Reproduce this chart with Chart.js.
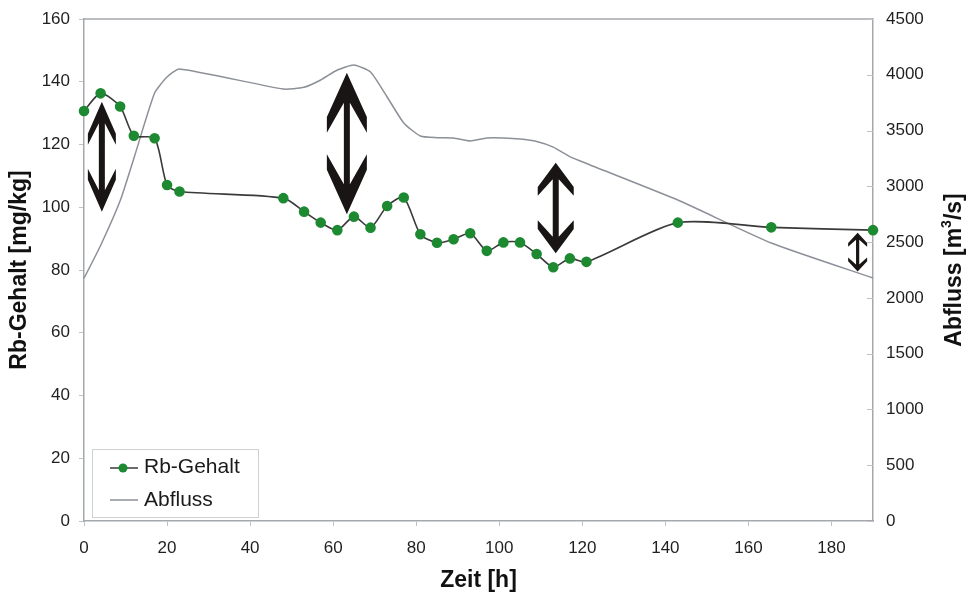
<!DOCTYPE html>
<html>
<head>
<meta charset="utf-8">
<script src="https://cdn.jsdelivr.net/npm/chart.js@4.4.1/dist/chart.umd.min.js"></script>
<style>
  html, body { margin: 0; padding: 0; background: #ffffff; }
  #wrap { width: 971px; height: 598px; }
</style>
</head>
<body>
<div id="wrap"><canvas id="grafRb" width="971" height="598"></canvas></div>
<script>
// Werte
var rbZeit = [0, 4, 8.7, 12, 17, 20, 23, 48, 53, 57, 61, 65, 69, 73, 77, 81, 85, 89, 93, 97, 101, 105, 109, 113, 117, 121, 143, 165.5, 190];
var rbWerte = [130.7, 136.3, 132.1, 122.8, 122, 107.1, 105, 102.9, 98.6, 95.1, 92.7, 97, 93.5, 100.4, 103.1, 91.4, 88.7, 89.8, 91.7, 86.1, 88.8, 88.8, 85.1, 80.9, 83.7, 82.6, 95.1, 93.6, 92.7];

var abflussZeit = [0, 4, 8.7, 12, 17, 20, 23, 48, 53, 57, 61, 65, 69, 73, 77, 81, 85, 89, 93, 97, 101, 105, 109, 113, 117, 121, 143, 165.5, 190];
var abflussWerte = [2176, 2470, 2870, 3250, 3836, 3980, 4052, 3872, 3888, 3953, 4043, 4088, 4025, 3801, 3568, 3451, 3436, 3433, 3406, 3433, 3433, 3424, 3402, 3352, 3267, 3205, 2877, 2492, 2178];

// Doppelpfeile (Zeit, oberes und unteres Ende in mg/kg)
var pfeilZeit = [4.3, 63.3, 113.6, 186.3];
var pfeilOben = [133.6, 142.9, 114.2, 91.9];
var pfeilUnten = [98.6, 97.8, 85.3, 79.5];

var schrift = "'Liberation Sans', Arial, sans-serif";
var gruen = "#1d8a32";
var achsFarbe = "#a4a7ab";

function punkte(xs, ys) {
    var res = [];
    xs.forEach(function(x, i) { res.push({x: x, y: ys[i]}); });
    return res;
}

//Pfeile, Rahmen, Legende und rechter Achsentitel
var zusatzPlugin = {
    id: "zusatz",
    afterDatasetsDraw: function(chart) {
        var ctx = chart.ctx;
        var sx = chart.scales.x, sy = chart.scales.y;
        var breite = [28, 40, 36, 19];
        var kopf = [43, 60, 33, 14];
        ctx.save();
        ctx.fillStyle = "#1a1515";
        pfeilZeit.forEach(function(t, i) {
            var cx = sx.getPixelForValue(t);
            var yT = sy.getPixelForValue(pfeilOben[i]);
            var yB = sy.getPixelForValue(pfeilUnten[i]);
            var w2 = breite[i] / 2, h2 = kopf[i], h1 = h2 * 0.74;
            var s = i === 3 ? 1.6 : 3;
            var h3 = h2 * 0.5;
            ctx.beginPath();
            ctx.moveTo(cx, yT);
            ctx.lineTo(cx + w2, yT + h1);
            ctx.lineTo(cx + w2, yT + h2);
            ctx.lineTo(cx + s, yT + h3);
            ctx.lineTo(cx + s, yB - h3);
            ctx.lineTo(cx + w2, yB - h2);
            ctx.lineTo(cx + w2, yB - h1);
            ctx.lineTo(cx, yB);
            ctx.lineTo(cx - w2, yB - h1);
            ctx.lineTo(cx - w2, yB - h2);
            ctx.lineTo(cx - s, yB - h3);
            ctx.lineTo(cx - s, yT + h3);
            ctx.lineTo(cx - w2, yT + h2);
            ctx.lineTo(cx - w2, yT + h1);
            ctx.closePath();
            ctx.fill();
        });
        ctx.restore();
    },
    afterDraw: function(chart) {
        var ctx = chart.ctx;
        var ca = chart.chartArea;
        var y2 = chart.scales.y2;
        ctx.save();

        // obere Rahmenlinie
        ctx.strokeStyle = achsFarbe;
        ctx.lineWidth = 1.5;
        ctx.beginPath();
        ctx.moveTo(ca.left, ca.top);
        ctx.lineTo(ca.right, ca.top);
        ctx.stroke();

        // Striche rechte Achse nach innen
        ctx.strokeStyle = "#c0c2c5";
        ctx.lineWidth = 1;
        y2.ticks.forEach(function(tk) {
            var py = Math.round(y2.getPixelForValue(tk.value)) + 0.5;
            ctx.beginPath();
            ctx.moveTo(ca.right - 6, py);
            ctx.lineTo(ca.right, py);
            ctx.stroke();
        });

        // Legende
        var lx = ca.left + 8, ly = ca.bottom - 72;
        ctx.fillStyle = "#ffffff";
        ctx.fillRect(lx, ly, 166, 68);
        ctx.strokeStyle = "#cfd0d2";
        ctx.lineWidth = 1;
        ctx.strokeRect(lx + 0.5, ly + 0.5, 166, 68);
        ctx.font = "21px " + schrift;
        ctx.textBaseline = "middle";
        ctx.textAlign = "left";
        ctx.strokeStyle = "#3a3a3a";
        ctx.lineWidth = 1.5;
        ctx.beginPath();
        ctx.moveTo(lx + 18, ly + 19);
        ctx.lineTo(lx + 46, ly + 19);
        ctx.stroke();
        ctx.fillStyle = gruen;
        ctx.beginPath();
        ctx.arc(lx + 31, ly + 19, 4.5, 0, Math.PI * 2);
        ctx.fill();
        ctx.fillStyle = "#1a1a1a";
        ctx.fillText("Rb-Gehalt", lx + 52, ly + 18);
        ctx.strokeStyle = "#8c9098";
        ctx.beginPath();
        ctx.moveTo(lx + 18, ly + 51);
        ctx.lineTo(lx + 46, ly + 51);
        ctx.stroke();
        ctx.fillText("Abfluss", lx + 52, ly + 51);

        // Titel rechte Achse (von unten nach oben)
        ctx.translate(955, (ca.top + ca.bottom) / 2);
        ctx.rotate(-Math.PI / 2);
        var fGross = "bold 23px " + schrift, fKlein = "bold 14px " + schrift;
        ctx.font = fGross;
        var t1 = "Abfluss [m", t3 = "/s]";
        var w1 = ctx.measureText(t1).width, w3 = ctx.measureText(t3).width;
        ctx.font = fKlein;
        var w2 = ctx.measureText("3").width;
        var start = -(w1 + w2 + w3) / 2;
        ctx.fillStyle = "#111111";
        ctx.textBaseline = "middle";
        ctx.font = fGross;
        ctx.fillText(t1, start, 0);
        ctx.font = fKlein;
        ctx.fillText("3", start + w1, -8);
        ctx.font = fGross;
        ctx.fillText(t3, start + w1 + w2, 0);
        ctx.restore();
    }
};

var getGrafRb = document.getElementById("grafRb");
var grafRb = new Chart(getGrafRb, {
    type: "line",
    plugins: [zusatzPlugin],
    data: {
        datasets: [
            {
                label: "Rb-Gehalt",
                data: punkte(rbZeit, rbWerte),
                yAxisID: "y",
                borderColor: "#3a3a3a",
                borderWidth: 1.6,
                pointBackgroundColor: gruen,
                pointBorderColor: gruen,
                pointRadius: 4.5,
                tension: 0.25,
                clip: false,
                fill: false
            },
            {
                label: "Abfluss",
                data: punkte(abflussZeit, abflussWerte),
                yAxisID: "y2",
                borderColor: "#8c9098",
                borderWidth: 1.5,
                pointRadius: 0,
                tension: 0.18,
                clip: false,
                fill: false
            }
        ]
    },
    options: {
        responsive: false,
        animation: false,
        layout: { padding: { top: 19, left: 0, right: 0, bottom: 0 } },
        scales: {
            x: {
                type: "linear",
                min: 0,
                max: 190,
                afterFit: function(s) { s.height = 77; s.paddingLeft = 0; s.paddingRight = 0; },
                ticks: {
                    stepSize: 20,
                    includeBounds: false,
                    maxRotation: 0,
                    padding: 12,
                    color: "#1f1f1f",
                    font: { family: schrift, size: 17 }
                },
                grid: { drawOnChartArea: false, tickLength: 5, color: "#c0c2c5" },
                border: { color: achsFarbe, width: 1.5 },
                title: {
                    display: true,
                    text: "Zeit [h]",
                    color: "#111111",
                    padding: 4,
                    font: { family: schrift, size: 23, weight: "bold" }
                }
            },
            y: {
                position: "left",
                min: 0,
                max: 160,
                afterFit: function(s) { s.width = 84; s.paddingTop = 0; s.paddingBottom = 0; },
                ticks: {
                    stepSize: 20,
                    padding: 9,
                    color: "#1f1f1f",
                    font: { family: schrift, size: 17 }
                },
                grid: { drawOnChartArea: false, tickLength: 5, color: "#c0c2c5" },
                border: { color: achsFarbe, width: 1.5 },
                title: {
                    display: true,
                    text: "Rb-Gehalt [mg/kg]",
                    color: "#111111",
                    padding: { top: 6, bottom: 0 },
                    font: { family: schrift, size: 23, weight: "bold" }
                }
            },
            y2: {
                position: "right",
                min: 0,
                max: 4500,
                afterFit: function(s) { s.width = 98; s.paddingTop = 0; s.paddingBottom = 0; },
                ticks: {
                    stepSize: 500,
                    padding: 13,
                    color: "#1f1f1f",
                    font: { family: schrift, size: 17 },
                    callback: function(v) { return String(v); }
                },
                grid: { drawOnChartArea: false, drawTicks: false },
                border: { color: achsFarbe, width: 1.5 }
            }
        },
        plugins: {
            legend: { display: false },
            tooltip: { enabled: false }
        }
    }
});
</script>
</body>
</html>
